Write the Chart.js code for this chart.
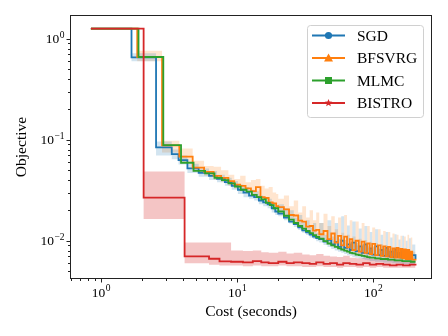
<!DOCTYPE html>
<html>
<head>
<meta charset="utf-8">
<script src="https://cdn.jsdelivr.net/npm/chart.js@4.4.0/dist/chart.umd.min.js"></script>
<style>
  html, body { margin: 0; padding: 0; background: #fff; }
</style>
</head>
<body>
<canvas id="costChart" width="448" height="336"></canvas>
<script>
// cost (seconds) where each run steps down
const tailX = [20, 22, 24, 26, 28, 30, 32, 34, 36, 38,
  40, 43, 46, 49, 52, 55, 58, 61, 64, 67,
  70, 74, 78, 82, 86, 90, 94, 98,
  103, 108, 113, 118, 123, 128, 133, 138, 143, 148,
  153, 158, 163, 168, 173, 178, 183, 188, 193, 204];

// SGD
const sgdX = [0.84, 1.67, 2.53, 3.3, 3.7, 4.3, 5.2, 6.2, 7.1, 8.1, 9.1, 10.1, 11.1, 12.2, 13.3, 14.4, 15.5, 16.7, 17.9, 19.0].concat(tailX);
const sgdY = [1.26, 0.654, 0.084, 0.072, 0.063, 0.052, 0.047, 0.044, 0.041, 0.038, 0.035, 0.032, 0.030, 0.028, 0.027, 0.025, 0.024, 0.023, 0.021, 0.0195,
  0.0186, 0.0170, 0.0155, 0.0146, 0.0136, 0.0127, 0.0121, 0.0115, 0.0110, 0.0106,
  0.0104, 0.0098, 0.0102, 0.0092, 0.0097, 0.0087, 0.0100, 0.0085, 0.0092, 0.0081,
  0.0096, 0.0079, 0.0088, 0.0076, 0.0092, 0.0075, 0.0084, 0.0073,
  0.0088, 0.0072, 0.0081, 0.0071, 0.0085, 0.0070, 0.0078, 0.0069, 0.0082, 0.0069,
  0.0076, 0.0068, 0.0080, 0.0068, 0.0074, 0.0067, 0.0077, 0.0067, 0.0072, 0.0066];
const sgdHi = [1.26, 0.72, 0.096, 0.080, 0.070, 0.058, 0.052, 0.049, 0.045, 0.042, 0.039, 0.036, 0.034, 0.032, 0.031, 0.028, 0.027, 0.026, 0.024, 0.022,
  0.023, 0.021, 0.020, 0.017, 0.018, 0.0155, 0.016, 0.0135, 0.015, 0.012,
  0.0150, 0.0115, 0.0160, 0.011, 0.0150, 0.0105, 0.0175, 0.0102, 0.0142, 0.0098,
  0.0155, 0.0095, 0.0132, 0.0092, 0.0140, 0.0090, 0.0122, 0.0088,
  0.0130, 0.0086, 0.0115, 0.0085, 0.0122, 0.0083, 0.0108, 0.0082, 0.0116, 0.0081,
  0.0103, 0.0080, 0.0112, 0.0079, 0.0100, 0.0078, 0.0106, 0.0077, 0.0092, 0.0072];
const sgdLo = [1.26, 0.60, 0.070, 0.064, 0.057, 0.047, 0.043, 0.040, 0.038, 0.035, 0.032, 0.029, 0.027, 0.026, 0.025, 0.023, 0.022, 0.021, 0.019, 0.018,
  0.0175, 0.0160, 0.0148, 0.0137, 0.0128, 0.0120, 0.0114, 0.0108, 0.0104, 0.0099,
  0.0096, 0.0091, 0.0087, 0.0083, 0.0080, 0.0078, 0.0076, 0.0074, 0.0072, 0.0071,
  0.0069, 0.0068, 0.0067, 0.0066, 0.0065, 0.0064, 0.0063, 0.0063,
  0.0062, 0.0062, 0.0062, 0.0061, 0.0061, 0.0061, 0.0061, 0.0060, 0.0060, 0.0060,
  0.0060, 0.0060, 0.0059, 0.0059, 0.0059, 0.0059, 0.0059, 0.0059, 0.0059, 0.0059];

// BFSVRG
const bfsX = [0.84, 1.84, 2.80, 3.75, 4.7, 5.7, 6.7, 7.6, 8.6, 9.5, 10.5, 11.5, 12.6, 13.7, 14.8, 15.9, 17.0, 18.2, 19.3].concat(tailX);
const bfsY = [1.26, 0.66, 0.088, 0.068, 0.053, 0.048, 0.044, 0.042, 0.039, 0.036, 0.035, 0.033, 0.031, 0.034, 0.027, 0.0265, 0.024, 0.0235, 0.022,
  0.0215, 0.0205, 0.0180, 0.0178, 0.0158, 0.0155, 0.0138, 0.0140, 0.0126, 0.0128,
  0.0116, 0.0125, 0.0104, 0.0118, 0.0096, 0.0112, 0.0090, 0.0110, 0.0086, 0.0104,
  0.0081, 0.0100, 0.0078, 0.0098, 0.0076, 0.0094, 0.0074, 0.0093,
  0.0072, 0.0090, 0.0071, 0.0088, 0.0070, 0.0087, 0.0069, 0.0084, 0.0068, 0.0085,
  0.0068, 0.0083, 0.0067, 0.0082, 0.0066, 0.0081, 0.0066, 0.0078, 0.0065, 0.0066];
const bfsHi = [1.26, 0.76, 0.098, 0.082, 0.062, 0.055, 0.054, 0.050, 0.045, 0.041, 0.044, 0.038, 0.040, 0.041, 0.035, 0.033, 0.034, 0.030, 0.029,
  0.026, 0.028, 0.022, 0.025, 0.019, 0.022, 0.017, 0.020, 0.016, 0.019,
  0.015, 0.0185, 0.014, 0.0175, 0.013, 0.0170, 0.012, 0.0180, 0.0115, 0.0160,
  0.011, 0.0155, 0.0105, 0.0150, 0.0102, 0.0140, 0.0098, 0.0135,
  0.0095, 0.0130, 0.0093, 0.0125, 0.0090, 0.0122, 0.0088, 0.0118, 0.0087, 0.0115,
  0.0086, 0.0112, 0.0084, 0.0110, 0.0083, 0.0115, 0.0082, 0.0108, 0.0078, 0.0070];
const bfsLo = [1.26, 0.60, 0.075, 0.060, 0.048, 0.044, 0.040, 0.038, 0.035, 0.033, 0.031, 0.030, 0.028, 0.027, 0.025, 0.024, 0.023, 0.022, 0.021,
  0.0190, 0.0172, 0.0158, 0.0146, 0.0137, 0.0129, 0.0122, 0.0116, 0.0111, 0.0106,
  0.0102, 0.0097, 0.0092, 0.0088, 0.0085, 0.0082, 0.0080, 0.0078, 0.0076, 0.0074,
  0.0073, 0.0071, 0.0070, 0.0069, 0.0068, 0.0067, 0.0066, 0.0066,
  0.0065, 0.0065, 0.0064, 0.0064, 0.0064, 0.0063, 0.0063, 0.0063, 0.0062, 0.0062,
  0.0062, 0.0062, 0.0061, 0.0061, 0.0061, 0.0061, 0.0061, 0.0060, 0.0060, 0.0060];

// MLMC
const mlmcX = [0.84, 1.88, 2.86, 3.86, 4.77, 5.8, 6.8, 7.7, 8.6, 9.6, 10.6, 11.7, 12.8, 13.9, 15.0, 16.2, 17.3, 18.5].concat(tailX);
const mlmcY = [1.26, 0.66, 0.0887, 0.0592, 0.0493, 0.0465, 0.042, 0.0399, 0.037, 0.0343, 0.032, 0.0306, 0.0285, 0.027, 0.0257, 0.0237, 0.0225, 0.0210,
  0.0195, 0.0177, 0.0162, 0.0150, 0.0140, 0.0132, 0.0125, 0.0119, 0.0114, 0.0109,
  0.0105, 0.0099, 0.0094, 0.0090, 0.0087, 0.0084, 0.0082, 0.0080, 0.0078, 0.0076,
  0.0075, 0.0073, 0.0072, 0.0071, 0.0070, 0.0069, 0.0068, 0.0068,
  0.0067, 0.0067, 0.0066, 0.0066, 0.0066, 0.0065, 0.0065, 0.0065, 0.0064, 0.0064,
  0.0064, 0.0064, 0.0063, 0.0063, 0.0063, 0.0063, 0.0063, 0.0062, 0.0062, 0.0062];

// BISTRO
const bistroX = [0.84, 2.05, 4.1, 6.2, 7.4, 9, 11, 13, 15, 17, 20, 23, 26, 30, 34, 38, 43, 48, 54, 60, 67, 75, 84, 94, 105, 118, 132, 148, 165, 185, 204];
const bistroY = [1.26, 0.0267, 0.0070, 0.00664, 0.00625, 0.0062, 0.0061, 0.0063, 0.0061, 0.0060, 0.0062, 0.0060, 0.0061, 0.0060, 0.0059, 0.0061,
  0.0059, 0.0060, 0.0058, 0.0060, 0.0059, 0.0058, 0.0060, 0.0058, 0.0059, 0.0058, 0.0057, 0.0058, 0.0057, 0.0058, 0.0057];
const bistroHi = [1.26, 0.0485, 0.0096, 0.0096, 0.0096, 0.0080, 0.0079, 0.0080, 0.0077, 0.0076, 0.0078, 0.0075, 0.0076, 0.0073, 0.0072, 0.0074,
  0.0071, 0.0070, 0.0069, 0.0071, 0.0068, 0.0067, 0.0068, 0.0066, 0.0067, 0.0065, 0.0066, 0.0065, 0.0064, 0.0064, 0.0063];
const bistroLo = [1.26, 0.0164, 0.0060, 0.0058, 0.0057, 0.0057, 0.0056, 0.0057, 0.0056, 0.0056, 0.0057, 0.0056, 0.0056, 0.0055, 0.0055, 0.0056,
  0.0055, 0.0055, 0.0054, 0.0055, 0.0055, 0.0054, 0.0055, 0.0054, 0.0055, 0.0054, 0.0054, 0.0054, 0.0054, 0.0054, 0.0054];

const seriesNames = ['SGD', 'BFSVRG', 'MLMC', 'BISTRO'];
const seriesColors = ['#1f77b4', '#ff7f0e', '#2ca02c', '#d62728'];
const markerStyles = ['circle', 'triangle', 'rect', 'star'];

// tick labels are 10^exp
const xTickValues = [1, 10, 100];
const xTickExps = ['0', '1', '2'];
const yTickValues = [0.01, 0.1, 1];
const yTickExps = ['\u22122', '\u22121', '0'];

const serif = "'Liberation Serif', 'DejaVu Serif', serif";

function pts(xs, ys) {
  return xs.map((x, i) => ({ x: x, y: ys[i] }));
}

function band(xs, hi, lo, color) {
  return [
    { data: pts(xs, hi), borderWidth: 0, pointRadius: 0, stepped: true, fill: '+1', backgroundColor: color, order: 10 },
    { data: pts(xs, lo), borderWidth: 0, pointRadius: 0, stepped: true, fill: false, order: 10 }
  ];
}

function line(xs, ys, i) {
  return { label: seriesNames[i], data: pts(xs, ys), borderColor: seriesColors[i], borderWidth: 1.8,
    pointRadius: 0, stepped: true, fill: false, order: 4 - i };
}

function powLabel(ctx, exp, x, y, align) {
  ctx.font = '13.5px ' + serif;
  const wb = ctx.measureText('10').width;
  ctx.font = '9.5px ' + serif;
  const we = ctx.measureText(exp).width;
  const w = wb + we + 0.5;
  const x0 = align === 'right' ? x - w : x - w / 2;
  ctx.textAlign = 'left';
  ctx.textBaseline = 'alphabetic';
  ctx.font = '13.5px ' + serif;
  ctx.fillText('10', x0, y);
  ctx.font = '9.5px ' + serif;
  ctx.fillText(exp, x0 + wb + 0.5, y - 5.5);
}

// frame, log tick marks, tick labels and the legend box drawn like matplotlib
const axesDecor = {
  id: 'axesDecor',
  afterDraw(chart) {
    const ctx = chart.ctx, a = chart.chartArea;
    const xs = chart.scales.x, ys = chart.scales.y;
    const L = Math.round(a.left) - 0.5, T = Math.round(a.top) - 0.5;
    const R = Math.round(a.right) + 0.5, B = Math.round(a.bottom) + 0.5;
    ctx.save();
    ctx.strokeStyle = '#222';
    ctx.lineWidth = 1;
    ctx.strokeRect(L, T, R - L, B - T);

    ctx.beginPath();
    for (let d = 0.001; d <= 1; d *= 10) {
      for (let m = 1; m < 10; m++) {
        const v = d * m;
        if (v < ys.min || v > ys.max) continue;
        const p = Math.round(ys.getPixelForValue(v)) + 0.5;
        const len = m === 1 ? 4 : 2.5;
        ctx.moveTo(L, p); ctx.lineTo(L - len, p);
      }
    }
    for (let d = 0.1; d <= 100; d *= 10) {
      for (let m = 1; m < 10; m++) {
        const v = d * m;
        if (v < xs.min || v > xs.max) continue;
        const p = Math.round(xs.getPixelForValue(v)) + 0.5;
        const len = m === 1 ? 4 : 2.5;
        ctx.moveTo(p, B); ctx.lineTo(p, B + len);
      }
    }
    ctx.stroke();

    ctx.fillStyle = '#000';
    yTickValues.forEach((v, i) => {
      powLabel(ctx, yTickExps[i], L - 6, ys.getPixelForValue(v) + 4.5, 'right');
    });
    xTickValues.forEach((v, i) => {
      powLabel(ctx, xTickExps[i], xs.getPixelForValue(v), B + 18, 'center');
    });

    // legend
    const bw = 116, bh = 92;
    const bx = Math.round(a.right) - 8 - bw, by = Math.round(a.top) + 9;
    ctx.beginPath();
    ctx.roundRect(bx + 0.5, by + 0.5, bw, bh, 3);
    ctx.fillStyle = 'rgba(255,255,255,0.8)';
    ctx.fill();
    ctx.strokeStyle = '#d0d0d0';
    ctx.lineWidth = 1;
    ctx.stroke();
    ctx.font = '15.5px ' + serif;
    ctx.textAlign = 'left';
    ctx.textBaseline = 'middle';
    seriesNames.forEach((name, i) => {
      const ry = by + 10.5 + i * 22.5;
      const x0 = bx + 5, x1 = bx + 38, mx = (x0 + x1) / 2;
      ctx.strokeStyle = seriesColors[i];
      ctx.fillStyle = seriesColors[i];
      ctx.lineWidth = 1.8;
      ctx.beginPath(); ctx.moveTo(x0, ry); ctx.lineTo(x1, ry); ctx.stroke();
      ctx.beginPath();
      if (markerStyles[i] === 'circle') {
        ctx.arc(mx, ry, 3.6, 0, Math.PI * 2);
      } else if (markerStyles[i] === 'triangle') {
        ctx.moveTo(mx, ry - 4.5); ctx.lineTo(mx + 4.5, ry + 3.5); ctx.lineTo(mx - 4.5, ry + 3.5); ctx.closePath();
      } else if (markerStyles[i] === 'rect') {
        ctx.rect(mx - 3.5, ry - 3.5, 7, 7);
      } else {
        for (let k = 0; k < 10; k++) {
          const r = k % 2 === 0 ? 4 : 1.7;
          const ang = -Math.PI / 2 + k * Math.PI / 5;
          const px = mx + r * Math.cos(ang), py = ry + r * Math.sin(ang);
          if (k === 0) ctx.moveTo(px, py); else ctx.lineTo(px, py);
        }
        ctx.closePath();
      }
      ctx.fill();
      ctx.fillStyle = '#000';
      ctx.fillText(name, bx + 50, ry + 1);
    });
    ctx.restore();
  }
};

const datasets = [].concat(
  band(sgdX, sgdHi, sgdLo, 'rgba(31,119,180,0.2)'),
  band(bfsX, bfsHi, bfsLo, 'rgba(255,127,14,0.2)'),
  band(bistroX, bistroHi, bistroLo, 'rgba(214,39,40,0.27)'),
  [line(sgdX, sgdY, 0), line(bfsX, bfsY, 1), line(mlmcX, mlmcY, 2), line(bistroX, bistroY, 3)]
);

const ctx = document.getElementById('costChart').getContext('2d');
const costChart = new Chart(ctx, {
  type: 'line',
  data: { datasets: datasets },
  plugins: [axesDecor],
  options: {
    responsive: false,
    animation: false,
    layout: { padding: { top: 16, right: 17, left: 0, bottom: 0 } },
    elements: { line: { tension: 0 } },
    plugins: { legend: { display: false }, tooltip: { enabled: false } },
    scales: {
      x: {
        type: 'logarithmic',
        min: 0.63,
        max: 265,
        grid: { display: false },
        border: { display: false },
        afterFit: s => { s.height = 58; },
        afterBuildTicks: s => { s.ticks = xTickValues.map(v => ({ value: v })); },
        ticks: { display: false },
        title: {
          display: true, text: 'Cost (seconds)', color: '#000',
          font: { family: serif, size: 15.5 },
          padding: { top: 0, bottom: 15 }
        }
      },
      y: {
        type: 'logarithmic',
        min: 0.00428,
        max: 1.68,
        grid: { display: false },
        border: { display: false },
        afterFit: s => { s.width = 71; },
        afterBuildTicks: s => { s.ticks = yTickValues.map(v => ({ value: v })); },
        ticks: { display: false },
        title: {
          display: true, text: 'Objective', color: '#000',
          font: { family: serif, size: 15.5 },
          padding: { top: 12.5, bottom: 0 }
        }
      }
    }
  }
});
</script>
</body>
</html>
